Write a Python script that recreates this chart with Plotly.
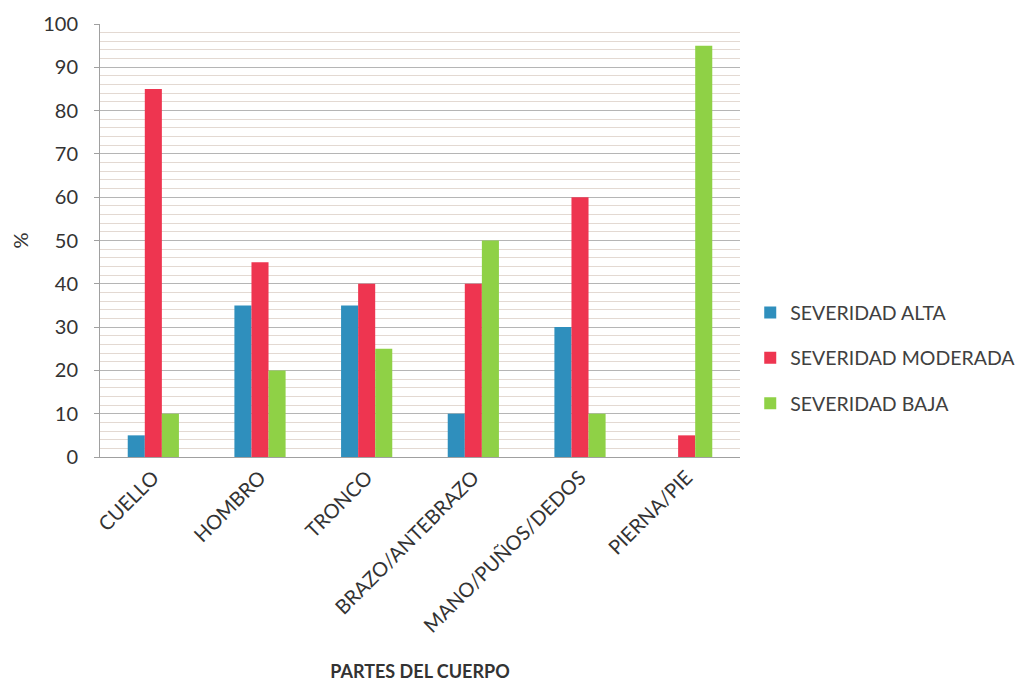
import plotly.graph_objects as go

categories = ["CUELLO", "HOMBRO", "TRONCO", "BRAZO/ANTEBRAZO", "MANO/PUÑOS/DEDOS", "PIERNA/PIE"]
severidad_alta = [5, 35, 35, 10, 30, 0]
severidad_moderada = [85, 45, 40, 40, 60, 5]
severidad_baja = [10, 20, 25, 50, 10, 95]
series_names = ["SEVERIDAD ALTA", "SEVERIDAD MODERADA", "SEVERIDAD BAJA"]
y_ticks = [0, 10, 20, 30, 40, 50, 60, 70, 80, 90, 100]

colors = ["#2f8fbd", "#ee3550", "#8fd146"]
font_family = "Lato, 'Open Sans', sans-serif"

fig = go.Figure()
for i, (name, vals, col) in enumerate(zip(series_names, [severidad_alta, severidad_moderada, severidad_baja], colors)):
    fig.add_trace(go.Bar(name=name, x=categories, y=vals, legendgroup=f"g{i}",
                         marker=dict(color=col, line=dict(width=0))))

fig.update_layout(
    width=1035, height=684,
    paper_bgcolor="white", plot_bgcolor="white",
    barmode="group", bargap=0.52, bargroupgap=0,
    margin=dict(l=92, r=303, t=16, b=235, autoexpand=False),
    font=dict(family=font_family, color="#333333", size=20),
    legend=dict(x=1.016, y=0.228, xanchor="left", yanchor="middle",
                font=dict(size=19.5, color="#404040"), itemwidth=30,
                traceorder="grouped", tracegroupgap=17,
                bgcolor="rgba(0,0,0,0)"),
    showlegend=True,
)
fig.update_xaxes(
    tickangle=-45, tickfont=dict(size=20, color="#333333"),
    showline=True, linecolor="#a0a0a0", linewidth=1,
    ticks="", showgrid=False, automargin=False,
    title=dict(text="<b>PARTES DEL CUERPO</b>", font=dict(size=18, color="#333333"), standoff=29),
)
fig.update_yaxes(
    range=[0, 100], tickvals=y_ticks, automargin=False,
    tickfont=dict(size=20, color="#333333"),
    showline=True, linecolor="#a0a0a0", linewidth=1,
    showgrid=True, gridcolor="#b5b5b5", gridwidth=1,
    minor=dict(dtick=2, showgrid=True, gridcolor="#e3d9d2", gridwidth=1),
    zeroline=False, ticks="outside", ticklen=5, tickcolor="#a0a0a0",
    ticklabelstandoff=12,
    title=dict(text="%", font=dict(size=20, color="#333333"), standoff=26),
)
fig.write_html("out.html")
